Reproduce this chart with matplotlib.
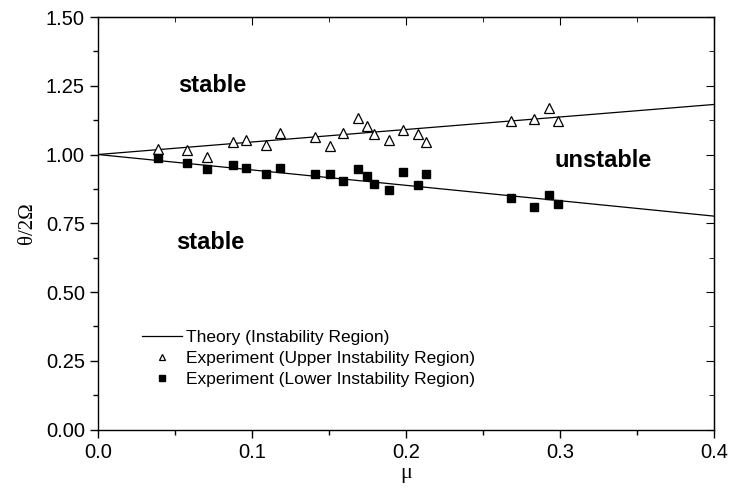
import matplotlib
matplotlib.use("Agg")
import matplotlib.pyplot as plt
from matplotlib.ticker import MultipleLocator

plt.rcParams['font.family'] = ['Liberation Sans', 'DejaVu Sans']

# theory lines (instability region boundaries)
theory_mu = [0.0, 0.4]
theory_upper = [1.0, 1.182]
theory_lower = [1.0, 0.776]

# experiment points
mu = [0.039, 0.058, 0.071, 0.088, 0.096, 0.109, 0.118, 0.141, 0.151, 0.159,
      0.169, 0.175, 0.179, 0.189, 0.198, 0.208, 0.213, 0.268, 0.283, 0.293, 0.299]
upper = [1.019, 1.016, 0.992, 1.047, 1.052, 1.035, 1.079, 1.065, 1.030, 1.079,
         1.131, 1.105, 1.073, 1.053, 1.089, 1.073, 1.045, 1.122, 1.129, 1.168, 1.122]
lower = [0.986, 0.969, 0.946, 0.961, 0.951, 0.928, 0.951, 0.930, 0.928, 0.905,
         0.946, 0.921, 0.893, 0.871, 0.937, 0.889, 0.928, 0.841, 0.809, 0.852, 0.821]

fig = plt.figure(figsize=(7.3, 4.92), dpi=100)
ax = fig.add_axes([0.1342, 0.127, 0.8438, 0.8384])

ax.plot(theory_mu, theory_upper, color='black', lw=0.9, label='Theory (Instability Region)')
ax.plot(theory_mu, theory_lower, color='black', lw=0.9)
ax.plot(mu, upper, ls='none', marker='^', ms=7, mfc='white', mec='black', mew=0.9,
        label='Experiment (Upper Instability Region)')
ax.plot(mu, lower, ls='none', marker='s', ms=5.5, color='black',
        label='Experiment (Lower Instability Region)')

# region labels
ax.text(0.074, 1.25, 'stable', fontsize=17, fontweight='bold', ha='center', va='center')
ax.text(0.073, 0.679, 'stable', fontsize=17, fontweight='bold', ha='center', va='center')
ax.text(0.328, 0.98, 'unstable', fontsize=17, fontweight='bold', ha='center', va='center')

ax.set_xlim(0, 0.4)
ax.set_ylim(0, 1.5)
ax.xaxis.set_major_locator(MultipleLocator(0.1))
ax.xaxis.set_minor_locator(MultipleLocator(0.05))
ax.yaxis.set_major_locator(MultipleLocator(0.25))
ax.yaxis.set_minor_locator(MultipleLocator(0.125))
ax.xaxis.set_major_formatter(matplotlib.ticker.FormatStrFormatter('%.1f'))
ax.yaxis.set_major_formatter(matplotlib.ticker.FormatStrFormatter('%.2f'))
ax.tick_params(which='both', direction='out', labelsize=14.5, width=1)
ax.tick_params(which='major', length=6)
ax.tick_params(which='minor', length=3.5)
for s in ax.spines.values():
    s.set_linewidth(1)

# mirrored inward ticks on top and right
top = ax.secondary_xaxis('top')
top.xaxis.set_major_locator(MultipleLocator(0.1))
top.xaxis.set_minor_locator(MultipleLocator(0.05))
top.tick_params(which='both', direction='in', labeltop=False)
top.tick_params(which='major', length=6)
top.tick_params(which='minor', length=3.5)
right = ax.secondary_yaxis('right')
right.yaxis.set_major_locator(MultipleLocator(0.25))
right.yaxis.set_minor_locator(MultipleLocator(0.125))
right.tick_params(which='both', direction='in', labelright=False)
right.tick_params(which='major', length=6)
right.tick_params(which='minor', length=3.5)

ax.set_xlabel('μ', fontsize=16, family=['Liberation Serif', 'DejaVu Serif'], labelpad=2)
ax.set_ylabel('θ/2Ω', fontsize=15, family=['Liberation Serif', 'DejaVu Serif'], labelpad=6)

ax.legend(loc='lower left', bbox_to_anchor=(0.071, 0.102), frameon=False, fontsize=12.5,
          handlelength=2.3, handletextpad=0.25, labelspacing=0.36, markerscale=0.7,
          borderaxespad=0, borderpad=0)

fig.savefig('out.png', dpi=100)
